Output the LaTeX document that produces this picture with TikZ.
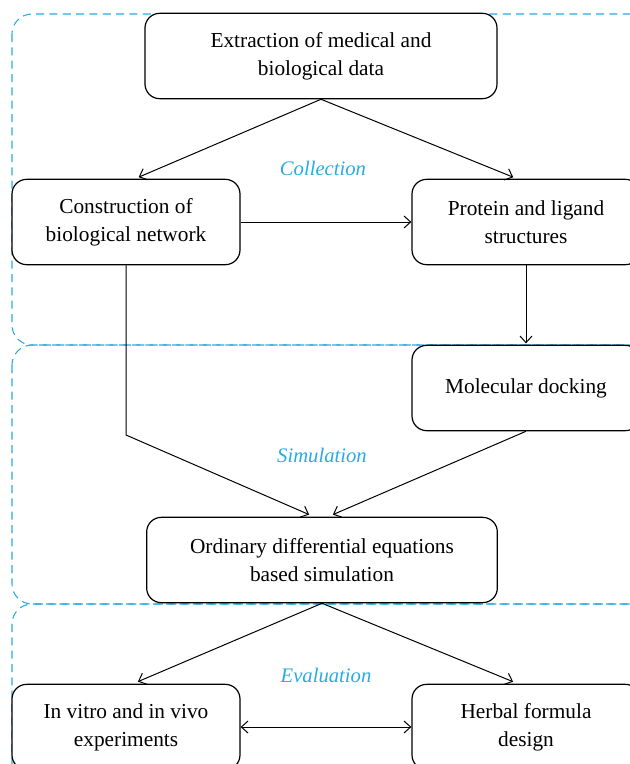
\documentclass[tikz,border=0pt]{standalone}
\usepackage{fontspec}
\setmainfont{Liberation Serif}
\usetikzlibrary{arrows.meta,calc}
\definecolor{zoneblue}{RGB}{41,171,226}
\tikzset{
  box/.style={draw,line width=0.9pt,fill=white,rounded corners=11pt,align=center,
    minimum width=171pt,minimum height=64pt,font=\fontsize{16}{21}\selectfont},
  zone/.style={draw=zoneblue,line width=0.8pt,dash pattern=on 6pt off 4pt,rounded corners=15pt},
  zonelabel/.style={text=zoneblue,font=\fontsize{15.5}{18}\selectfont\itshape},
}
\begin{document}
\begin{tikzpicture}[x=0.75pt,y=-0.75pt,>={Straight Barb[length=5pt,width=9pt]},line width=0.75pt]
\useasboundingbox (0,0) rectangle (630,764);
\clip (0,0) rectangle (630,764);
% the three stages
\draw[zone] (12,14) rectangle (660,345);
\draw[zone] (12,345) rectangle (660,604);
\draw[zone] (12,604) rectangle (660,800);
\node[zonelabel] (collect) at (323,168) {Collection};
\node[zonelabel] (simul) at (322,455) {Simulation};
\node[zonelabel] (evalu) at (326,675) {Evaluation};
% boxes
\node[box,minimum width=264pt] (extract) at (321,56) {Extraction of medical and\\biological data};
\node[box] (constr) at (126,222) {Construction of\\biological network};
\node[box] (protein) at (526,222) {Protein and ligand\\structures};
\node[box] (molec) at (526,388) {Molecular docking};
\node[box,minimum width=263pt] (ode) at (322,560) {Ordinary differential equations\\based simulation};
\node[box] (vitro) at (126,727) {In vitro and in vivo\\experiments};
\node[box] (herbal) at (526,727) {Herbal formula\\design};
\coordinate (bend) at (126,435);
% links
\draw[->,shorten >=3pt] (extract.south) -- ($(constr.north)+(9,0)$);
\draw[->,shorten >=3pt] (extract.south) -- ($(protein.north)+(-9,0)$);
\draw[->] (constr) -- (protein);
\draw[->,shorten >=1pt] (protein) -- (molec);
\draw[->,shorten >=4pt] (constr.south) -- (bend) -- ($(ode.north)+(-8,0)$);
\draw[->,shorten >=4pt] (molec.south) -- ($(ode.north)+(6,0)$);
\draw[->,shorten >=4pt] (ode.south) -- ($(vitro.north)+(7,0)$);
\draw[->,shorten >=4pt] (ode.south) -- ($(herbal.north)+(-8,0)$);
\draw[<->] (vitro) -- (herbal);
\end{tikzpicture}
\end{document}
